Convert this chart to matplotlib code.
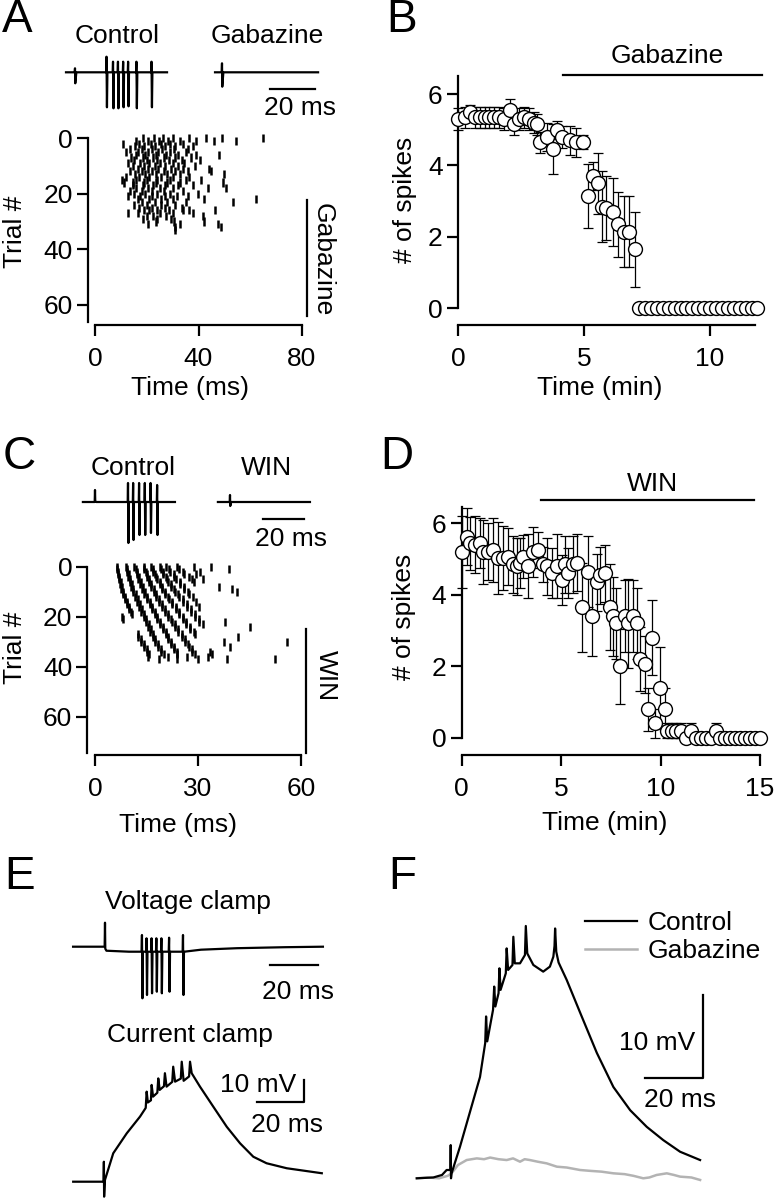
import matplotlib
matplotlib.use('Agg')
import matplotlib.pyplot as plt
import numpy as np
from matplotlib.lines import Line2D

# ---------------- data ----------------
# Panel A raster: spike times (ms) per trial
raster_a = [
    [18.5, 22.7, 26.3, 30, 36.5, 43, 49, 65],
    [16, 20.5, 24.7, 28.2, 33, 39, 46, 54.5],
    [11, 17, 21.5, 25.5, 29, 34],
    [15.4, 19, 23, 27, 31, 38],
    [13.5, 18, 22, 26, 30.5, 36],
    [12, 16.5, 20.5, 24.5, 29, 35.3],
    [16, 19.5, 23.5, 27.5, 32, 39, 48],
    [14, 18.5, 22.5, 26.5, 31, 37],
    [15, 20, 24, 28.5, 33.5, 40.5],
    [12.8, 17.5, 21, 25, 30, 34.5],
    [14.5, 19, 23, 27, 32, 38.5],
    [16.5, 20.5, 24.5, 29.5, 34, 44.2],
    [13.5, 18, 22, 26.5, 31, 36, 44.9],
    [15.5, 19.5, 23.5, 28, 33, 50],
    [12, 17, 21, 25.5, 30, 36.5],
    [10.6, 16, 20, 24, 29, 35, 41],
    [11.1, 14.7, 19, 23.5, 28, 33, 49.4],
    [14.7, 18.5, 22.5, 27, 32, 38],
    [16, 20.5, 25, 30, 43.6, 50.7],
    [13.5, 18, 22, 26.5, 34],
    [15, 19.5, 24, 29, 39.7],
    [12.8, 17.5, 22, 27, 31.5, 36],
    [16.5, 21, 25.5, 30, 42.3, 62.3],
    [18, 23, 28, 35.3, 53.3],
    [15, 20, 25.5, 31],
    [17, 22, 27, 33.5],
    [19, 21, 24, 28.5, 34, 36.5, 46.2],
    [12.8, 16.5, 25, 30, 37.8],
    [20, 22.4, 27.5, 41.7],
    [18.6, 24, 29.5],
    [23.7, 30.5, 42.3],
    [20.5, 32.7, 47.5],
    [31, 48.8],
    [30.8],
]
# Panel C raster: spike times (ms) per trial
raster_c = [
    [6.3, 9.1, 11.4, 14.3, 16.4, 19.0, 20.7, 23.8, 28.7, 33.8],
    [6.4, 9.3, 11.9, 14.2, 17.0, 19.1, 21.6, 24.6, 38.9],
    [6.7, 9.2, 12.2, 14.8, 16.9, 19.8, 21.8, 25.5, 30.6],
    [6.6, 9.8, 12.1, 15.0, 17.6, 19.8, 22.9, 25.8, 29.5],
    [7.1, 9.7, 12.7, 15.1, 17.7, 20.6, 23.0, 27.3],
    [6.9, 10.2, 12.6, 15.7, 18.0, 21.1, 23.6, 28.2, 31.6],
    [7.5, 10.1, 13.3, 15.6, 18.8, 21.2, 24.7, 28.8],
    [7.3, 10.7, 13.2, 16.4, 18.8, 22.2, 24.8],
    [7.9, 10.6, 13.9, 16.3, 19.6, 22.2, 25.9, 36.0],
    [7.7, 11.2, 13.8, 17.1, 19.6, 23.1, 26.0, 40.0],
    [8.3, 11.1, 14.5, 17.1, 20.5, 23.2, 27.1, 41.3],
    [8.2, 11.8, 14.4, 17.9, 20.5, 24.3, 27.3],
    [8.8, 11.7, 15.2, 17.9, 21.4, 24.4, 28.5],
    [8.7, 12.4, 15.1, 18.7, 21.5, 25.5],
    [9.3, 12.3, 15.9, 18.7, 22.5, 25.6, 29.3],
    [9.2, 13.0, 15.9, 19.5, 22.5, 26.7],
    [9.9, 12.9, 16.6, 19.5, 23.5, 26.8, 30.2],
    [9.8, 13.6, 16.6, 20.4, 23.5, 27.9],
    [10.4, 13.5, 17.4, 20.4, 24.5, 28.0],
    [10.8, 14.2, 17.4, 21.3, 24.5, 29.1],
    [7.8, 14.2, 18.2, 21.3, 25.5, 29.2],
    [8.3, 14.9, 18.2, 22.2, 25.5, 30.3],
    [14.8, 19.0, 22.3, 26.5, 30.4, 38.0],
    [15.6, 19.0, 23.3, 26.6, 31.5],
    [15.5, 19.8, 23.3, 27.7, 45.2],
    [16.2, 19.8, 24.3, 27.8],
    [16.1, 20.6, 24.3, 28.9],
    [12.5, 16.9, 20.6, 25.2, 29.0],
    [12.6, 16.8, 21.4, 25.3, 41.7],
    [13.4, 17.6, 21.4, 26.2],
    [13.3, 17.6, 22.2, 26.3, 37.6, 56.0],
    [14.2, 18.4, 22.2, 27.2],
    [14.2, 18.4, 23.0, 27.3, 39.3],
    [15.0, 19.2, 23.0, 28.2],
    [15.0, 19.2, 23.8, 28.3, 33.5],
    [15.8, 20.0, 23.8, 29.2, 34.0],
    [15.5, 21.4, 26.7, 33.0],
    [18.5, 23.8, 30.1, 38.5, 52.5],
]

# Panel B: time (min), mean # spikes, SEM
b_time = [0.0, 0.26, 0.47, 0.67, 0.86, 1.06, 1.25, 1.45, 1.64, 1.84, 2.07, 2.23, 2.43, 2.62,
          2.82, 3.01, 3.13, 3.26, 3.52, 3.78, 3.92, 4.15, 4.44, 4.70, 4.97, 5.17, 5.36, 5.56,
          5.72, 5.87, 6.15, 6.34, 6.58, 6.81, 7.05, 7.2, 7.43, 7.67, 7.9, 8.14, 8.38, 8.61,
          8.85, 9.08, 9.32, 9.55, 9.79, 10.02, 10.26, 10.49, 10.73, 10.96, 11.2, 11.43,
          11.67, 11.9]
b_spikes = [5.3, 5.35, 5.5, 5.35, 5.35, 5.35, 5.35, 5.35, 5.35, 5.3, 5.55, 5.15, 5.3, 5.35,
            5.3, 5.2, 5.15, 4.65, 4.8, 4.45, 5.0, 4.8, 4.7, 4.65, 4.65, 3.15, 3.7, 3.5,
            2.85, 2.8, 2.7, 2.35, 2.15, 2.15, 1.65, 0, 0, 0, 0, 0, 0, 0,
            0, 0, 0, 0, 0, 0, 0, 0, 0, 0, 0, 0, 0, 0]
b_sem = [0.3, 0.3, 0.2, 0.3, 0.3, 0.3, 0.3, 0.3, 0.3, 0.3, 0.3, 0.3, 0.3, 0.3,
         0.3, 0.3, 0.3, 0.3, 0.4, 0.7, 0.25, 0.3, 0.4, 0.4, 0.2, 0.9, 0.4, 0.85,
         1.0, 0.9, 0.95, 0.9, 1.0, 1.0, 1.05, 0, 0, 0, 0, 0, 0, 0,
         0, 0, 0, 0, 0, 0, 0, 0, 0, 0, 0, 0, 0, 0]

# Panel D
d_time = [0.0, 0.25, 0.42, 0.67, 0.92, 1.09, 1.34, 1.59, 1.84, 2.09, 2.34, 2.6, 2.76, 2.93,
          3.1, 3.35, 3.6, 3.85, 4.1, 4.27, 4.52, 4.77, 5.02, 5.19, 5.36, 5.6, 5.78, 6.03,
          6.36, 6.53, 6.78, 6.95, 7.2, 7.45, 7.6, 7.78, 7.95, 8.2, 8.37, 8.6, 8.79, 8.96,
          9.2, 9.37, 9.55, 9.7, 9.95, 10.2, 10.3, 10.55, 10.8, 11.05, 11.3, 11.55, 11.8,
          12.05, 12.3, 12.55, 12.8, 13.0, 13.25, 13.5, 13.75, 14.0, 14.25, 14.5, 14.75, 15.0]
d_spikes = [5.2, 5.63, 5.44, 5.4, 5.44, 5.2, 5.2, 5.25, 5.03, 5.03, 5.07, 4.85, 4.8, 4.89,
            5.07, 4.8, 5.2, 5.25, 4.85, 4.8, 4.6, 4.8, 4.4, 4.85, 4.6, 4.85, 4.9, 3.65,
            4.65, 3.4, 4.35, 4.55, 4.6, 3.65, 3.4, 3.2, 2.0, 3.4, 3.2, 3.4, 3.2, 2.2,
            2.05, 0.8, 2.8, 0.4, 1.4, 0.8, 0.2, 0.2, 0.2, 0.2, 0.0, 0.2, 0.0,
            0.0, 0.0, 0.0, 0.2, 0.0, 0.0, 0.0, 0.0, 0.0, 0.0, 0.0, 0.0, 0.0]
d_sem = [1.0, 0.8, 0.75, 0.8, 0.7, 0.9, 0.8, 0.9, 1.0, 0.9, 0.8, 0.8, 0.8, 0.7,
         0.6, 0.9, 0.7, 0.5, 0.5, 0.8, 0.7, 0.9, 0.7, 0.8, 0.7, 0.8, 0.8, 1.25,
         1.0, 1.1, 0.8, 0.8, 0.8, 1.2, 1.1, 1.0, 1.05, 1.0, 1.25, 1.0, 1.0, 0.9,
         0.8, 0.6, 1.05, 0.4, 1.15, 0.6, 0.2, 0.2, 0.2, 0.2, 0.0, 0.2, 0.0,
         0.0, 0.0, 0.0, 0.2, 0.0, 0.0, 0.0, 0.0, 0.0, 0.0, 0.0, 0.0, 0.0]

# Extracellular example traces (ms relative to stimulus, arbitrary units)
a_ctrl_spike_t = [14.1, 17.0, 19.2, 21.5, 23.7, 27.4, 34.1]
a_ctrl_spike_up = [15.6, 10.6, 10.6, 10.6, 10.6, 10.6, 10.6]
a_ctrl_spike_dn = [-35, -36, -36, -35, -34, -36, -35]
c_ctrl_spike_t = [16.2, 18.7, 21.6, 24.4, 27.2, 30.4]
c_ctrl_spike_up = [19, 19, 19, 19, 19, 17]
c_ctrl_spike_dn = [-41, -38, -33, -33, -31, -33]
e_vc_spike_t = [15.5, 17.4, 19.5, 21.5, 23.6, 26.8, 32.6]
e_vc_spike_up = [16.7, 13.4, 13.4, 13.4, 13.4, 14.0, 16.7]
e_vc_spike_dn = [-46.6, -43.3, -41.6, -40.0, -41.6, -40.0, -43.3]
e_vc_base_t = [-13.3, -0.15, 0.4, 10, 33, 40, 55, 75, 90.8]
e_vc_base_v = [0, 0, -4, -5, -5, -3, -1.5, -0.5, 0]

# Current clamp (ms, mV relative to baseline)
e_cc_t = [-13, -0.2, -0.05, 0.05, 0.4, 3.9, 9.6, 15.2, 17.6, 18.0, 18.5, 19.8, 20.1, 20.7,
          22.5, 22.9, 23.5, 25.3, 25.7, 26.4, 28.8, 29.2, 30.0, 32.4, 32.8, 33.6, 35.9,
          36.3, 37.0, 40.5, 46.1, 51.8, 57.4, 63.0, 68.6, 77.1, 91.9]
e_cc_v = [0, 0, 9.2, -6.9, 0.8, 13.1, 22.3, 30.0, 34.0, 41.5, 36.5, 37.5, 44.6, 39.2,
          41.0, 47.6, 42.3, 44.0, 50.0, 43.8, 46.0, 53.0, 46.1, 47.5, 55.3, 46.5, 48.5,
          55.3, 50.0, 43.8, 34.6, 25.3, 17.7, 11.5, 8.5, 6.2, 3.9]
f_ctrl_t = [-11.7, -6, -3, -1.4, -0.1, 0, 0.1, 0.3, 3.2, 5.5, 10.1, 11.9, 12.2, 12.6, 14.6,
            15.0, 15.4, 16.5, 16.8, 17.2, 19.0, 19.3, 19.8, 21.3, 21.6, 22.1, 23.9, 25.6,
            25.9, 26.4, 28.5, 31.9, 34.2, 35.4, 35.8, 36.0, 36.4, 37.2, 40.0, 44.7, 50.4,
            56.1, 61.9, 67.6, 73.3, 79.1, 86.0]
f_ctrl_v = [0, 0.1, 0.4, 1.0, 1.0, 4.0, 0.0, 0.6, 3.8, 6.6, 12.2, 16.3, 19.5, 16.5, 20.3,
            23.1, 20.7, 22.3, 25.3, 22.7, 24.7, 27.7, 25.1, 25.7, 29.1, 25.9, 25.9, 26.9,
            30.4, 27.1, 25.7, 24.9, 25.5, 26.7, 28.0, 30.1, 27.3, 26.0, 23.9, 19.9, 15.1,
            11.0, 8.2, 6.2, 4.6, 3.2, 2.2]
f_gbz_t = [-11.7, -8, -4, -1, 0.3, 2.5, 5.5, 9.0, 11.5, 13.6, 16.5, 19.3, 21.5, 23.9, 25.5,
           27.3, 30.0, 33.1, 36.6, 40.0, 44.6, 48.0, 52.0, 56.1, 60.0, 63.0, 66.4, 68.5,
           71.0, 74.5, 77.0, 79.1, 83.0, 86.0]
f_gbz_v = [0.0, 0.1, 0.0, 0.3, 0.6, 1.6, 2.2, 2.4, 2.3, 2.5, 2.3, 2.2, 2.4, 2.0, 2.3,
           2.2, 2.0, 1.8, 1.4, 1.3, 1.0, 0.9, 0.8, 0.6, 0.5, 0.3, 0.0, 0.1,
           0.4, 0.6, 0.4, 0.2, 0.1, -0.2]

# ---------------- figure ----------------
W, H = 775, 1199
fig = plt.figure(figsize=(W / 100, H / 100), dpi=100)
plt.rcParams['font.family'] = ['Liberation Sans', 'DejaVu Sans']
FS = 19
LW = 1.6


def px_axes(left, top, width, height):
    return fig.add_axes([left / W, 1 - (top + height) / H, width / W, height / H])


def mapped_axes(xpx, xval, ypx, yval, box):
    # box = (left, top, right, bottom) in pixels from the top-left corner
    sx = (xval[1] - xval[0]) / (xpx[1] - xpx[0])
    sy = (yval[1] - yval[0]) / (ypx[1] - ypx[0])
    ax = px_axes(box[0], box[1], box[2] - box[0], box[3] - box[1])
    ax.set_xlim(xval[0] + (box[0] - xpx[0]) * sx, xval[0] + (box[2] - xpx[0]) * sx)
    ax.set_ylim(yval[0] + (box[3] - ypx[0]) * sy, yval[0] + (box[1] - ypx[0]) * sy)
    return ax


def trace_axes(box, x0, y0, ppx, ppy):
    l, t, w, h = box
    ax = mapped_axes((x0, x0 + ppx), (0, 1), (y0, y0 - ppy), (0, 1), (l, t, l + w, t + h))
    ax.axis('off')
    return ax


def ftext(x, y, s, size=FS, **kw):
    kw.setdefault('ha', 'center')
    kw.setdefault('va', 'center')
    fig.text(x / W, 1 - y / H, s, fontsize=size, **kw)


def style_axes(ax):
    for s in ['top', 'right']:
        ax.spines[s].set_visible(False)
    for s in ['left', 'bottom']:
        ax.spines[s].set_linewidth(LW)
    ax.tick_params(direction='out', length=8, width=LW, labelsize=FS, pad=3)
    ax.tick_params(axis='x', pad=8)


def spike_trace(t0, t1, art_up, art_dn, sp_t, sp_up, sp_dn, base_t=None, base_v=None):
    if base_t is None:
        base_t, base_v = [t0, t1], [0, 0]
    t = [t0, -0.15, 0.0, 0.12, 0.6]
    v = [np.interp(t0, base_t, base_v), 0, art_up, art_dn, np.interp(0.6, base_t, base_v)]
    for ts, u, d in zip(sp_t, sp_up, sp_dn):
        b = np.interp(ts, base_t, base_v)
        t += [ts - 0.25, ts - 0.1, ts + 0.1, ts + 0.3]
        v += [b, b + u, b + d, b]
    for bt, bv in zip(base_t, base_v):
        if bt > 0.6:
            t.append(bt)
            v.append(bv)
    order = np.argsort(t, kind='stable')
    return np.array(t)[order], np.array(v)[order]


# ---- Panel A traces ----
ax = trace_axes((60, 45, 110, 75), 75, 72.3, 2.25, 1.0)
t, v = spike_trace(-4.0, 40.9, 4, -11, a_ctrl_spike_t, a_ctrl_spike_up, a_ctrl_spike_dn)
ax.plot(t, v, color='k', lw=LW)
ax = trace_axes((205, 45, 125, 75), 222, 72.3, 2.25, 1.0)
t, v = spike_trace(-3.1, 42.7, 9, -14.4, [], [], [])
ax.plot(t, v, color='k', lw=LW)
ax.plot([21.3, 41.3], [-16.4, -16.4], color='k', lw=LW)
ftext(117, 36, 'Control')
ftext(267, 36, 'Gabazine')
ftext(300, 108, '20 ms')

# ---- Panel A raster ----
ax = mapped_axes((95, 302), (0, 80), (138, 305), (0, 60), (55, 125, 340, 345))
ax.eventplot(raster_a, lineoffsets=np.arange(len(raster_a)), linelengths=2.9,
             linewidths=1.8, colors='k')
style_axes(ax)
ax.spines['left'].set_position(('data', -2.6))
ax.spines['left'].set_bounds(0, 66)
ax.spines['bottom'].set_position(('data', 67.2))
ax.spines['bottom'].set_bounds(0, 80)
ax.set_yticks([0, 20, 40, 60])
ax.set_xticks([0, 40, 80])
ax.plot([81.9, 81.9], [22.2, 64], color='k', lw=LW, clip_on=False)
ax.text(88.0, 43.8, 'Gabazine', rotation=270, fontsize=FS, ha='center', va='center')
ftext(15, 232, 'Trial #', rotation=90)
ftext(190, 388, 'Time (ms)')

# ---- Panel B ----
ax = mapped_axes((458, 709.6), (0, 10), (308.3, 94), (0, 6), (435, 60, 775, 345))
style_axes(ax)
ax.errorbar(b_time, b_spikes, yerr=b_sem, fmt='none', ecolor='k', elinewidth=0.9,
            capsize=3.5, capthick=0.9, zorder=1)
ax.plot(b_time, b_spikes, 'o', mfc='white', mec='k', ms=10, mew=1.0, zorder=3, clip_on=False)
ax.spines['left'].set_position(('data', 0))
ax.spines['left'].set_bounds(0, 6.5)
ax.spines['bottom'].set_position(('data', -0.47))
ax.spines['bottom'].set_bounds(0, 11.8)
ax.set_yticks([0, 2, 4, 6])
ax.set_xticks([0, 5, 10])
ax.plot([4.16, 12.07], [6.53, 6.53], color='k', lw=LW, clip_on=False)
ax.text(8.3, 7.05, 'Gabazine', fontsize=FS, ha='center', va='center')
ftext(405, 200, '# of spikes', rotation=90)
ftext(600, 388, 'Time (min)')

# ---- Panel C traces ----
ax = trace_axes((75, 475, 110, 80), 95, 502, 2.05, 1.0)
t, v = spike_trace(-5.9, 39, 12, 1, c_ctrl_spike_t, c_ctrl_spike_up, c_ctrl_spike_dn)
ax.plot(t, v, color='k', lw=LW)
ax = trace_axes((210, 475, 110, 80), 230, 502, 2.05, 1.0)
t, v = spike_trace(-5.9, 39, 7, -4, [], [], [])
ax.plot(t, v, color='k', lw=LW)
ax.plot([16.1, 36.1], [-17, -17], color='k', lw=LW)
ftext(133, 468, 'Control')
ftext(266, 468, 'WIN')
ftext(291, 539, '20 ms')

# ---- Panel C raster ----
ax = mapped_axes((95, 301), (0, 60), (566.7, 716.7), (0, 60), (55, 555, 340, 775))
ax.eventplot(raster_c, lineoffsets=np.arange(len(raster_c)), linelengths=3.3,
             linewidths=1.8, colors='k')
style_axes(ax)
ax.spines['left'].set_position(('data', -2.2))
ax.spines['left'].set_bounds(0, 74.6)
ax.spines['bottom'].set_position(('data', 75.4))
ax.spines['bottom'].set_bounds(0, 60)
ax.set_yticks([0, 20, 40, 60])
ax.set_xticks([0, 30, 60])
ax.plot([61.5, 61.5], [25, 74.6], color='k', lw=LW, clip_on=False)
ax.text(67.3, 43.5, 'WIN', rotation=270, fontsize=FS, ha='center', va='center')
ftext(15, 648, 'Trial #', rotation=90)
ftext(178, 825, 'Time (ms)')

# ---- Panel D ----
ax = mapped_axes((461.7, 760), (0, 15), (737.7, 523.3), (0, 6), (435, 455, 775, 775))
style_axes(ax)
ax.errorbar(d_time, d_spikes, yerr=d_sem, fmt='none', ecolor='k', elinewidth=0.9,
            capsize=3.5, capthick=0.9, zorder=1)
ax.plot(d_time, d_spikes, 'o', mfc='white', mec='k', ms=10, mew=1.0, zorder=3, clip_on=False)
ax.spines['left'].set_position(('data', 0))
ax.spines['left'].set_bounds(0, 6.45)
ax.spines['bottom'].set_position(('data', -0.49))
ax.spines['bottom'].set_bounds(0, 15)
ax.set_yticks([0, 2, 4, 6])
ax.set_xticks([0, 5, 10, 15])
ax.plot([3.98, 14.7], [6.65, 6.65], color='k', lw=LW, clip_on=False)
ax.text(9.6, 7.1, 'WIN', fontsize=FS, ha='center', va='center')
ftext(404, 617, '# of spikes', rotation=90)
ftext(605, 823, 'Time (min)')

# ---- Panel E ----
ax = trace_axes((60, 880, 320, 130), 105, 946.7, 2.4, 1.0)
t, v = spike_trace(-13.3, 90.8, 24, -2, e_vc_spike_t, e_vc_spike_up, e_vc_spike_dn,
                   e_vc_base_t, e_vc_base_v)
ax.plot(t, v, color='k', lw=LW)
ax.plot([68.75, 88.75], [-18.3, -18.3], color='k', lw=LW)
ftext(188, 902, 'Voltage clamp')
ftext(298, 992, '20 ms')

ax = trace_axes((60, 1040, 320, 159), 104, 1181.7, 2.37, 2.17)
ax.plot(e_cc_t, e_cc_v, color='k', lw=LW)
ax.plot([64.4, 84.4, 84.4], [36.9, 36.9, 46.9], color='k', lw=LW)
ftext(190, 1035, 'Current clamp')
ftext(258, 1085, '10 mV')
ftext(287, 1125, '20 ms')

# ---- Panel F ----
ax = trace_axes((400, 900, 375, 299), 450.7, 1178.3, 2.9, 8.3)
ax.plot(f_gbz_t, f_gbz_v, color='#b3b3b3', lw=1.8)
ax.plot(f_ctrl_t, f_ctrl_v, color='k', lw=LW)
ax.plot([67.0, 87.0, 87.0], [12.1, 12.1, 22.1], color='k', lw=LW)
ftext(657, 1043, '10 mV')
ftext(680, 1100, '20 ms')
handles = [Line2D([], [], color='k', lw=LW), Line2D([], [], color='#b3b3b3', lw=1.8)]
fig.legend(handles, ['Control', 'Gabazine'], loc='upper left',
           bbox_to_anchor=(585 / W, 1 - 911 / H), frameon=False, fontsize=FS,
           handlelength=1.97, handletextpad=0.42, labelspacing=0.15,
           borderpad=0, borderaxespad=0)

# panel letters
for lab, x, y in [('A', 17, 20), ('B', 402, 20), ('C', 19, 457), ('D', 397, 457),
                  ('E', 20, 877), ('F', 402, 877)]:
    ftext(x, y, lab, size=33)

fig.savefig('out.png', dpi=100)
